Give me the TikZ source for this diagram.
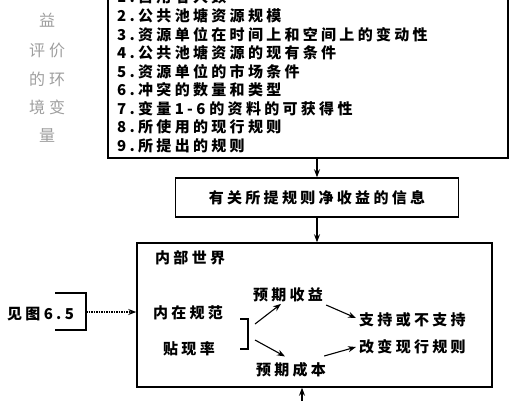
\documentclass[tikz,border=0pt]{standalone}
\usepackage{fontspec}
\setmainfont{Noto Sans CJK SC}[LetterSpace=22]
\usetikzlibrary{arrows.meta,calc}
\begin{document}
\begin{tikzpicture}[x=1pt,y=-1pt,
  box/.style={draw, line width=1.5pt, inner sep=0pt},
  txt/.style={font=\fontsize{15}{17}\selectfont\bfseries, inner sep=0pt},
  faint/.style={font=\fontsize{16}{18}\selectfont, text=black!38, inner sep=0pt},
  arr/.style={-{Stealth[length=8pt,width=6pt]}, line width=1.1pt},
  brk/.style={line width=1.5pt}]
\clip (0,0) rectangle (520,400);
% left faint title
\node[faint] (g1) at (47,20) {益};
\node[faint] (g2) at (47,50) {评\kern4pt 价};
\node[faint] (g3) at (47,79) {的\kern4pt 环};
\node[faint] (g4) at (47,107) {境\kern4pt 变};
\node[faint] (g5) at (47,135) {量};
% environment variables box
\node[box, minimum width=400pt, minimum height=172pt] (env) at (308,72) {};
\node[txt, anchor=west] (l1) at (117,-3) {1.占用者人数};
\node[txt, anchor=west] (l2) at (117,15.6) {2.公共池塘资源规模};
\node[txt, anchor=west] (l3) at (117,34.2) {3.资源单位在时间上和空间上的变动性};
\node[txt, anchor=west] (l4) at (117,52.8) {4.公共池塘资源的现有条件};
\node[txt, anchor=west] (l5) at (117,71.4) {5.资源单位的市场条件};
\node[txt, anchor=west] (l6) at (117,90) {6.冲突的数量和类型};
\node[txt, anchor=west] (l7) at (117,108.6) {7.变量1-6\kern4pt 的资料的可获得性};
\node[txt, anchor=west] (l8) at (117,127.2) {8.所使用的现行规则};
\node[txt, anchor=west] (l9) at (117,145.8) {9.所提出的规则};
% info box
\node[box, txt, minimum width=283pt, minimum height=39pt] (info) at (317,197.5) {有关所提规则净收益的信息};
% inner world box
\node[box, minimum width=355pt, minimum height=144pt] (inner) at (314.5,315) {};
\node[txt, anchor=west] (nbsj) at (155,258) {内部世界};
\node[txt] (nzgf) at (188,313) {内在规范};
\node[txt] (txl) at (189,349) {贴现率};
\node[txt] (yqsy) at (288,295) {预期收益};
\node[txt] (yqcb) at (291,370) {预期成本};
\node[txt, anchor=west] (zc) at (359,320) {支持或不支持};
\node[txt, anchor=west] (gb) at (359,347) {改变现行规则};
\node[txt, anchor=west] (jt) at (7,314) {见图6.5};
% vertical arrows
\draw[arr] (info.north |- env.south) -- (info.north);
\draw[arr] (info.south) -- (info.south |- inner.north);
\coordinate (bot) at (302,404);
\draw[arr] (bot) -- (bot |- inner.south);
% bracket around 见图6.5 and dotted arrow
\coordinate (b1) at (86,312);
\draw[brk] (55,293) -- (86,293) -- (86,330) -- (55,330);
\draw[arr, line width=1.5pt, densely dotted] (b1) -- (b1 -| inner.west);
% bracket joining 内在规范 / 贴现率
\coordinate (b2) at (248,334);
\draw[brk] (240,319) -- (248,319) -- (248,349) -- (240,349);
\draw[arr] ($(b2)+(7,-10)$) -- ($(yqsy.south)+(-7,1.5)$);
\draw[arr] ($(b2)+(7,6)$) -- ($(yqcb.north)+(-6,-6)$);
\draw[arr] ($(yqsy.east)+(3,10)$) -- ($(zc.west)+(-3,-2)$);
\draw[arr] ($(yqcb.east)+(-2,-14)$) -- ($(gb.west)+(-3,0)$);
\end{tikzpicture}
\end{document}
